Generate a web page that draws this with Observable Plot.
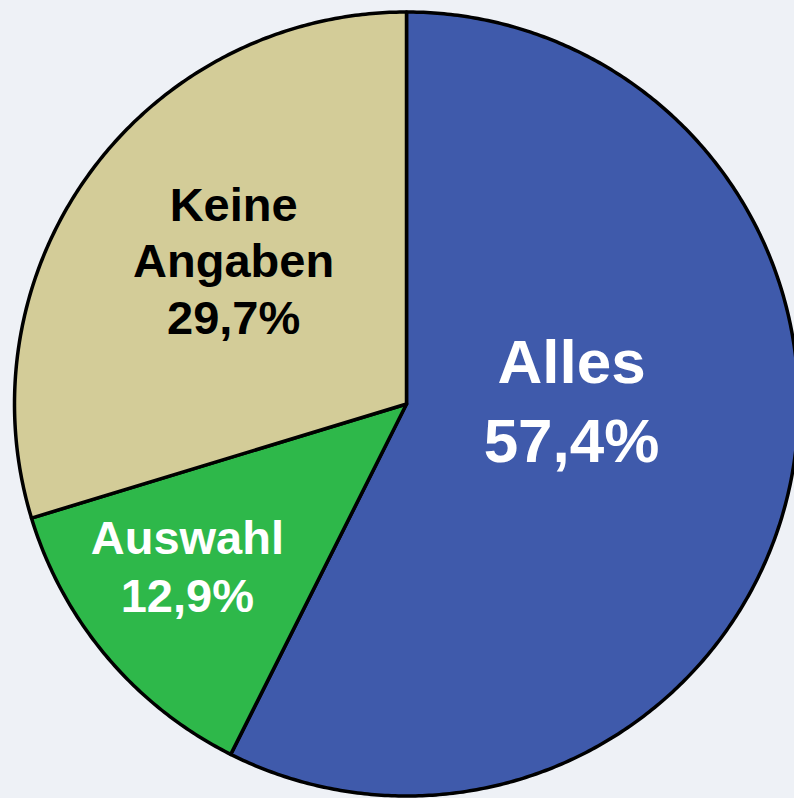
<!DOCTYPE html>
<html>
<head>
<meta charset="utf-8">
<script src="https://cdn.jsdelivr.net/npm/d3@7"></script>
<script src="https://cdn.jsdelivr.net/npm/@observablehq/plot@0.6"></script>
<style>
  html, body { margin: 0; padding: 0; background: #eef1f6; }
</style>
</head>
<body>
<div id="chart"></div>
<script>
// Data
const categories = ["Alles", "Auswahl", "Keine Angaben"];
const shares = [57.4, 12.9, 29.7];
const labelText = ["Alles\n57,4%", "Auswahl\n12,9%", "Keine\nAngaben\n29,7%"];

// Layout (not data)
const colors = ["#3f5aab", "#2eb84a", "#d3cc98"];
const textColors = ["white", "white", "black"];
const fontSizes = [62, 47, 47];
const lineHeights = [1.27, 1.23, 1.2];
const labelPlacement = [[0.421, 0.018], [-0.559, -0.409], [-0.441, 0.369]]; // in units of radius

const W = 794, H = 798, R = 392, CX = 406, CY = 403.5;

// Build slice polygons from the shares
const pie = d3.pie().sort(null).value(d => d.value)(categories.map((c, i) => ({cat: c, value: shares[i]})));
const slicePts = [];
pie.forEach((p, i) => {
  const n = Math.max(2, Math.ceil((p.endAngle - p.startAngle) / (Math.PI / 360)));
  slicePts.push({cat: p.data.cat, x: 0, y: 0, k: 0});
  for (let j = 0; j <= n; j++) {
    const a = p.startAngle + (p.endAngle - p.startAngle) * j / n;
    slicePts.push({cat: p.data.cat, x: Math.sin(a), y: Math.cos(a), k: j + 1});
  }
  slicePts.push({cat: p.data.cat, x: 0, y: 0, k: n + 2});
});

const labels = categories.map((c, i) => ({
  cat: c, text: labelText[i], x: labelPlacement[i][0], y: labelPlacement[i][1]
}));

const chart = Plot.plot({
  width: W,
  height: H,
  margin: 0,
  style: {background: "#eef1f6", fontFamily: "'Liberation Sans', Arial, sans-serif"},
  x: {domain: [-CX / R, (W - CX) / R], axis: null},
  y: {domain: [-(H - CY) / R, CY / R], axis: null},
  marks: [
    ...categories.map((c, i) => Plot.line(slicePts.filter(d => d.cat === c), {
      x: "x", y: "y",
      fill: colors[i], stroke: "black", strokeWidth: 3.5,
      strokeLinejoin: "round", curve: "linear"
    })),
    ...labels.map((d, i) => Plot.text([d], {
      x: "x", y: "y", text: "text",
      fill: textColors[i], fontSize: fontSizes[i], fontWeight: "bold",
      lineHeight: lineHeights[i], lineAnchor: "middle", textAnchor: "middle"
    }))
  ]
});
document.getElementById("chart").appendChild(chart);
</script>
</body>
</html>
